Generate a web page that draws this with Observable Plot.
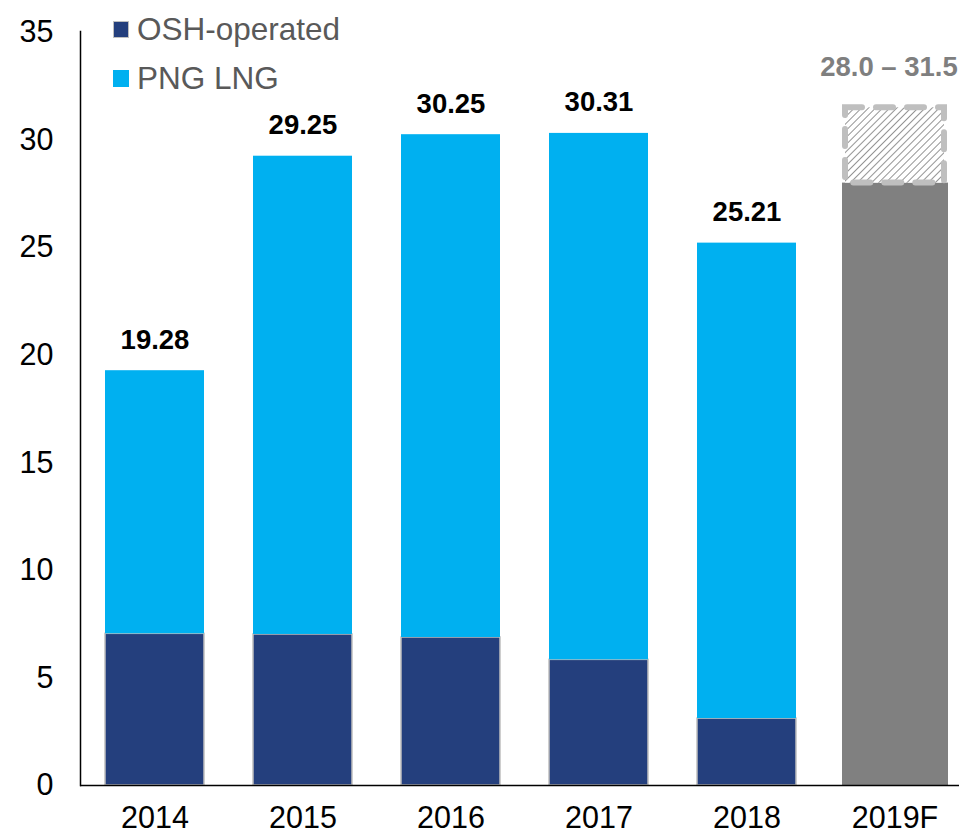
<!DOCTYPE html>
<html>
<head>
<meta charset="utf-8">
<script src="https://cdn.jsdelivr.net/npm/d3@7"></script>
<script src="https://cdn.jsdelivr.net/npm/@observablehq/plot@0.6"></script>
<style>
  html, body { margin: 0; padding: 0; background: #fff; }
  #wrap { position: relative; width: 959px; height: 835px; font-family: "Liberation Sans", Arial, sans-serif; }
  .legend { position: absolute; left: 113px; top: 12px; color: #595959; font-size: 31.5px; }
  .legend .item { display: flex; align-items: center; height: 34px; margin-bottom: 15px; }
  .legend .sw { width: 16px; height: 17px; margin-right: 8px; box-sizing: border-box; }
</style>
</head>
<body>
<div id="wrap"></div>
<script>
const years = ["2014", "2015", "2016", "2017", "2018"];
const oshOperated = [7.05, 7.02, 6.88, 5.84, 3.11];
const pngLng = [12.23, 22.23, 23.37, 24.47, 22.10];
const totals = [19.28, 29.25, 30.25, 30.31, 25.21];
const totalLabels = ["19.28", "29.25", "30.25", "30.31", "25.21"];
const forecastYear = "2019F";
const forecastLow = 28.0;
const forecastHigh = 31.5;
const forecastLabel = "28.0 – 31.5";
const seriesNames = ["OSH-operated", "PNG LNG"];
const seriesColors = ["#243F7D", "#00B0F0"];
const yTicks = [0, 5, 10, 15, 20, 25, 30, 35];

const stacked = [];
years.forEach((y, i) => {
  stacked.push({year: y, series: seriesNames[0], value: oshOperated[i]});
  stacked.push({year: y, series: seriesNames[1], value: pngLng[i]});
});
const totalsData = years.map((y, i) => ({year: y, total: totals[i], label: totalLabels[i]}));
const forecast = [{year: forecastYear, low: forecastLow, high: forecastHigh, label: forecastLabel}];

const hatchDefs = () => {
  const ns = "http://www.w3.org/2000/svg";
  const defs = document.createElementNS(ns, "defs");
  defs.innerHTML = `<pattern id="hatch" patternUnits="userSpaceOnUse" width="5" height="5" patternTransform="rotate(45)">
      <rect width="5" height="5" fill="#fff"/>
      <line x1="0" y1="0" x2="0" y2="5" stroke="#595959" stroke-width="1.3"/>
    </pattern>`;
  return defs;
};

const chart = Plot.plot({
  width: 959,
  height: 835,
  marginLeft: 80,
  marginRight: 0,
  marginTop: 31,
  marginBottom: 50,
  style: {fontFamily: "'Liberation Sans', Arial, sans-serif", background: "#fff"},
  x: {domain: [...years, forecastYear], paddingInner: 0.331, paddingOuter: 0.135, align: 0.625, label: null},
  y: {domain: [0, 35], range: [785, 32], label: null},
  color: {domain: seriesNames, range: seriesColors},
  marks: [
    hatchDefs,
    Plot.barY(stacked, {x: "year", y: "value", fill: "series", stroke: d => d.series === seriesNames[0] ? "#BFBFBF" : "none", strokeWidth: 1.5}),
    Plot.barY(forecast, {x: "year", y1: 0, y2: "low", fill: "#808080", insetLeft: -3, insetRight: -4}),
    Plot.barY(forecast, {x: "year", y1: "low", y2: "high", fill: "url(#hatch)", stroke: "#BFBFBF", strokeWidth: 6, strokeDasharray: "17,14", strokeLinecap: "round"}),
    Plot.text(totalsData, {x: "year", y: "total", text: "label", lineAnchor: "bottom", dy: -22, fontSize: 27.5, fontWeight: "bold", fill: "#000"}),
    Plot.text(forecast, {x: "year", y: "high", text: "label", lineAnchor: "bottom", dy: -32, dx: -6, fontSize: 27.5, fontWeight: "bold", fill: "#7F7F7F"}),
    Plot.axisY({ticks: yTicks, tickSize: 0, tickPadding: 27, fontSize: 30.5, fill: "#000"}),
    Plot.axisX({tickSize: 0, tickPadding: 21, fontSize: 30.5, fill: "#000"}),
    Plot.frame({anchor: "left", stroke: "#000", strokeWidth: 1.5}),
    Plot.ruleY([0], {stroke: "#000", strokeWidth: 1.5})
  ]
});

const wrap = document.getElementById("wrap");
wrap.appendChild(chart);
const legend = document.createElement("div");
legend.className = "legend";
seriesNames.forEach((name, i) => {
  const item = document.createElement("div");
  item.className = "item";
  const sw = document.createElement("span");
  sw.className = "sw";
  sw.style.background = seriesColors[i];
  if (i === 0) sw.style.border = "1.5px solid #BFBFBF";
  const t = document.createElement("span");
  t.textContent = name;
  item.appendChild(sw);
  item.appendChild(t);
  legend.appendChild(item);
});
wrap.appendChild(legend);
</script>
</body>
</html>
